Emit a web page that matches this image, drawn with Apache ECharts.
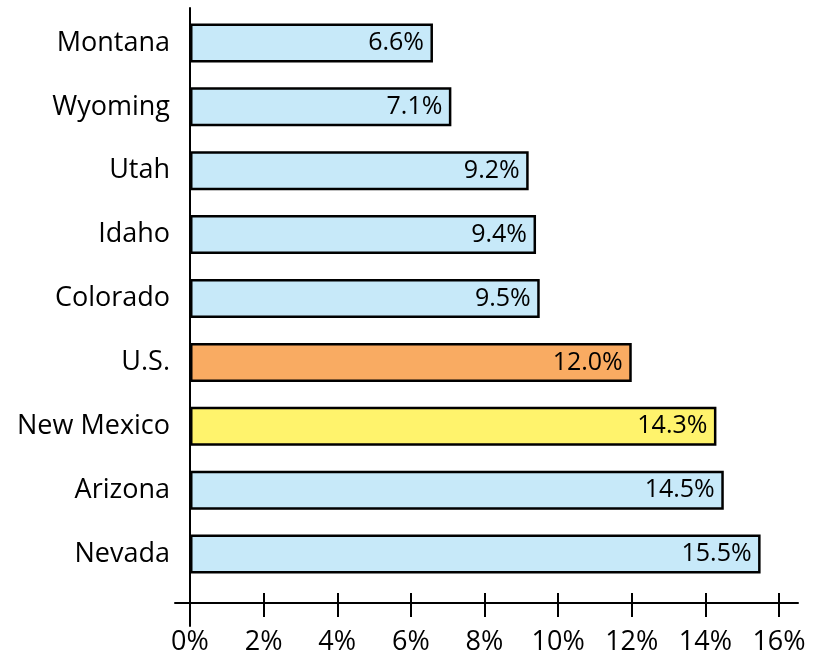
<!DOCTYPE html>
<html>
<head>
<meta charset="utf-8">
<script src="https://cdn.jsdelivr.net/npm/echarts@6/dist/echarts.min.js"></script>
<style>
  html, body { margin: 0; padding: 0; background: #fff; }
  #chart { width: 816px; height: 656px; }
</style>
</head>
<body>
<div id="chart"></div>
<script>
const states = ['Montana', 'Wyoming', 'Utah', 'Idaho', 'Colorado', 'U.S.', 'New Mexico', 'Arizona', 'Nevada'];
const rates = [6.6, 7.1, 9.2, 9.4, 9.5, 12.0, 14.3, 14.5, 15.5];
const xTicks = [0, 2, 4, 6, 8, 10, 12, 14, 16];

const FONT = '"Open Sans", sans-serif';

// 高亮颜色：美国平均为橙色，新墨西哥为黄色，其余为浅蓝
function barColor(name) {
    if (name === 'U.S.') return '#F9AB62';
    if (name === 'New Mexico') return '#FFF36C';
    return '#C7E9F9';
}

// 轴线网格：横轴比柱区略长，左端伸出到 175px，右端到 798px
const axisGrid = { left: 175, right: 18, top: 8, bottom: 30, outerBoundsMode: 'none' };
const X_MIN = -15 / 36.8125;
const X_MAX = 16 + 19 / 36.8125;

const chart = echarts.init(document.getElementById('chart'));

const option = {
    animation: false,
    grid: [
        // 柱子所在的网格
        { left: 190, right: 37, top: 11, bottom: 70, outerBoundsMode: 'none' },
        axisGrid,
        // 同位置的第二个网格，只画朝上的刻度
        Object.assign({}, axisGrid)
    ],
    xAxis: [
        { gridIndex: 0, type: 'value', min: 0, max: 16, show: false },
        {
            gridIndex: 1, type: 'value', min: X_MIN, max: X_MAX,
            axisLine: { show: true, onZero: true, lineStyle: { color: '#000', width: 2 } },
            axisTick: { show: true, customValues: xTicks, length: 14, lineStyle: { color: '#000', width: 2 } },
            axisLabel: {
                customValues: xTicks, formatter: '{value}%',
                fontFamily: FONT, fontSize: 27, color: '#000', margin: 3
            },
            splitLine: { show: false }
        },
        {
            gridIndex: 2, type: 'value', min: X_MIN, max: X_MAX,
            axisLine: { show: false, onZero: true },
            axisTick: { show: true, inside: true, customValues: xTicks, length: 10, lineStyle: { color: '#000', width: 2 } },
            axisLabel: { show: false },
            splitLine: { show: false }
        }
    ],
    yAxis: [
        {
            gridIndex: 0, type: 'category', data: states, inverse: true,
            axisLine: { show: false },
            axisTick: { show: false },
            axisLabel: { fontFamily: FONT, fontSize: 27, color: '#000', margin: 20 }
        },
        {
            gridIndex: 1, type: 'value', min: -23, max: 595,
            axisLine: { show: true, onZero: true, lineStyle: { color: '#000', width: 2 } },
            axisTick: { show: false },
            axisLabel: { show: false },
            splitLine: { show: false }
        },
        {
            gridIndex: 2, type: 'value', min: -23, max: 595,
            axisLine: { show: false },
            axisTick: { show: false },
            axisLabel: { show: false },
            splitLine: { show: false }
        }
    ],
    series: [{
        type: 'bar',
        xAxisIndex: 0,
        yAxisIndex: 0,
        barWidth: 39,
        data: states.map((s, i) => ({
            value: rates[i],
            itemStyle: { color: barColor(s) }
        })),
        itemStyle: { borderColor: '#000', borderWidth: 2.5 },
        label: {
            show: true,
            position: 'insideRight',
            distance: 9,
            fontFamily: FONT,
            fontSize: 25,
            color: '#000',
            formatter: p => p.value.toFixed(1) + '%'
        }
    }]
};

chart.setOption(option);
</script>
</body>
</html>
